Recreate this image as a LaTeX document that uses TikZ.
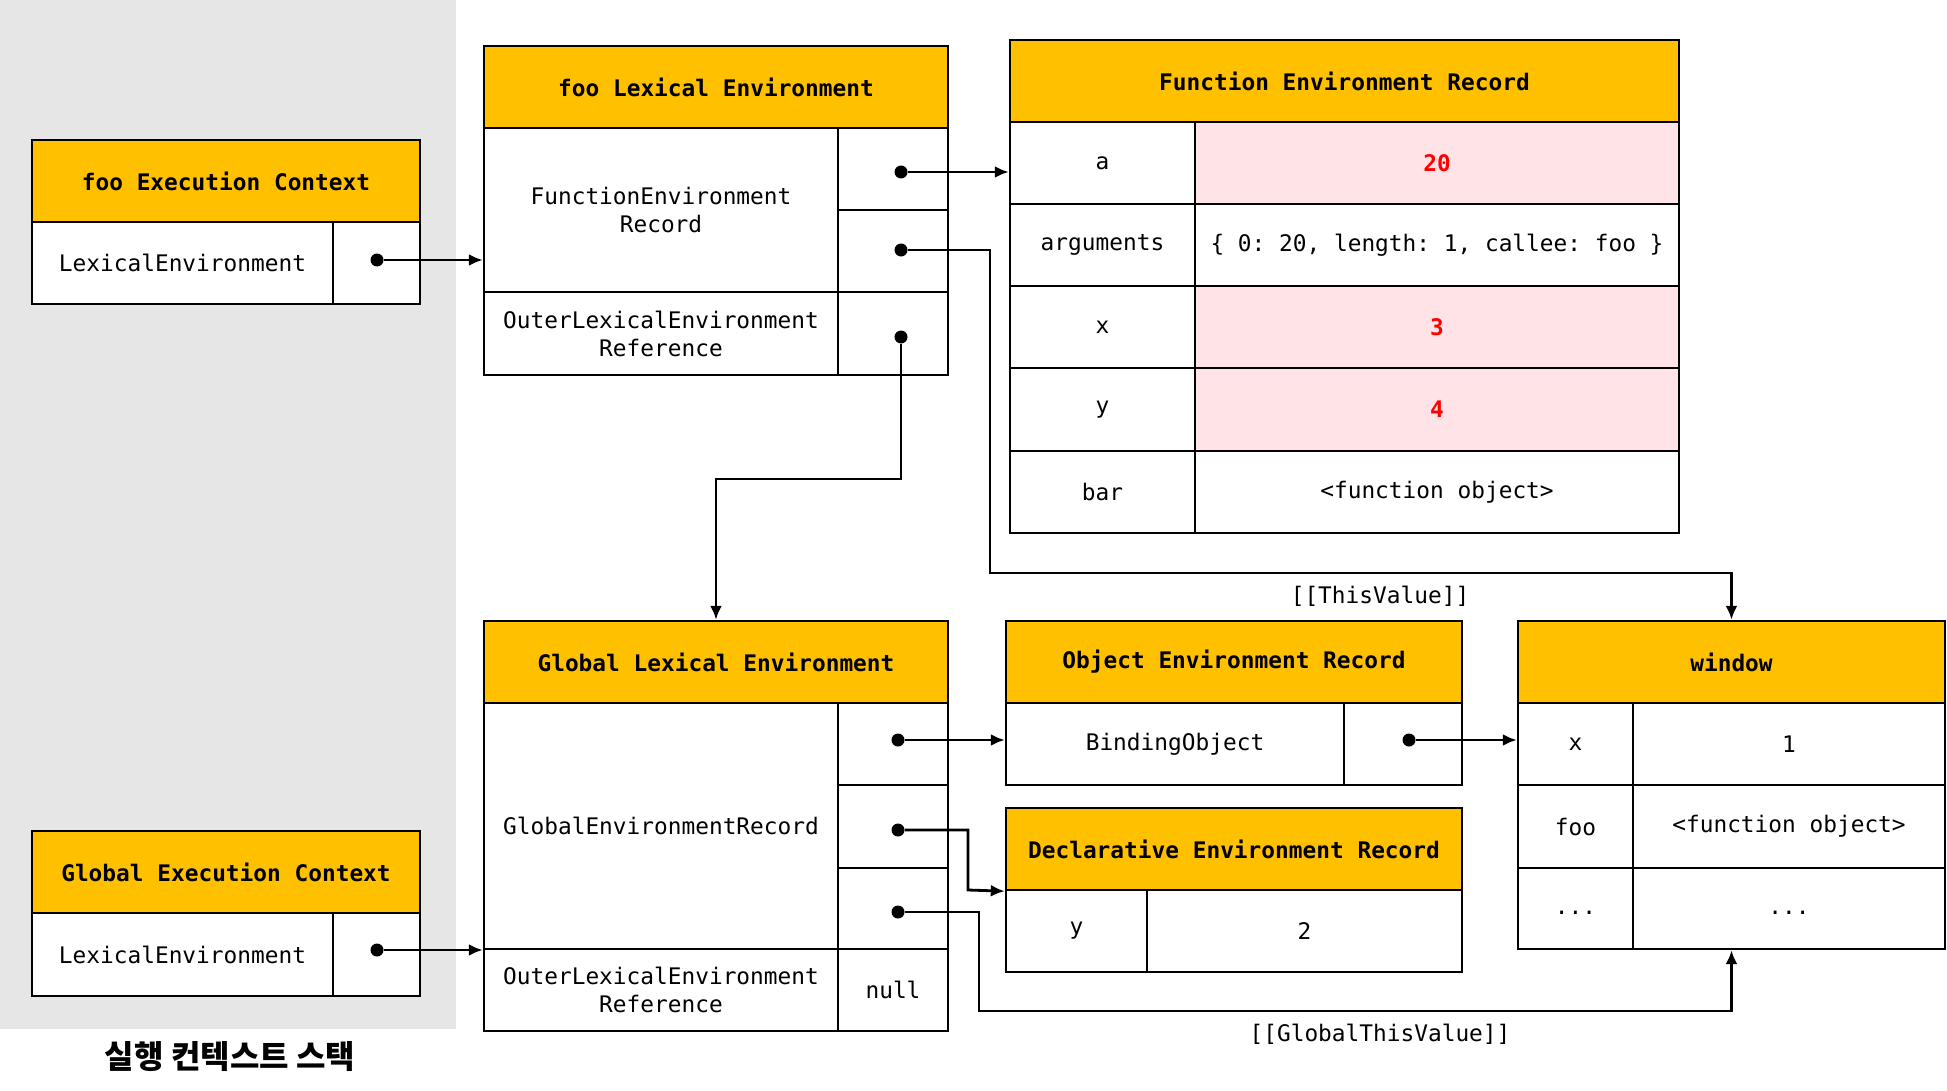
\documentclass[tikz,border=0pt]{standalone}
\usepackage{fontspec}
\setmonofont{DejaVu Sans Mono}
\newfontfamily\kfont{Noto Sans CJK KR}
\usetikzlibrary{arrows.meta}
\definecolor{hyellow}{HTML}{FFC000}
\definecolor{pinkbg}{HTML}{FFE3E6}
\definecolor{panelgray}{HTML}{E6E6E6}
\definecolor{valred}{HTML}{FF0000}
\tikzset{
  txt/.style={font=\ttfamily\fontsize{11.4}{14}\selectfont},
  hdr/.style={draw, line width=1.2pt, fill=hyellow, inner sep=0pt, align=center, font=\ttfamily\bfseries\fontsize{11.4}{14}\selectfont},
  cellb/.style={draw, line width=1.2pt, fill=white, inner sep=0pt, align=center, txt},
  pinkc/.style={cellb, fill=pinkbg, text=valred, font=\ttfamily\bfseries\fontsize{11.4}{14}\selectfont},
  dotn/.style={circle, fill=black, inner sep=0pt, minimum size=6.5pt},
  conn/.style={line width=1.4pt, -{Latex[length=7pt,width=6pt]}},
}
\begin{document}
\begin{tikzpicture}[x=0.5pt,y=-0.5pt]
\useasboundingbox (0,0) rectangle (1947,1091);
\fill[panelgray] (0,0) rectangle (456,1029);
\node[font=\kfont\bfseries\fontsize{16}{19}\selectfont] (stack) at (230,1057) {실행 컨텍스트 스택};

% foo Execution Context
\node[hdr, minimum width=194pt, minimum height=41pt] (fech) at (226,181) {foo Execution Context};
\node[cellb, minimum width=150.5pt, minimum height=41pt] (fecL) at (182.5,263) {LexicalEnvironment};
\node[cellb, minimum width=43.5pt, minimum height=41pt] (fecR) at (376.5,263) {};

% Global Execution Context
\node[hdr, minimum width=194pt, minimum height=41pt] (gech) at (226,872) {Global Execution Context};
\node[cellb, minimum width=150.5pt, minimum height=41.5pt] (gecL) at (182.5,954.5) {LexicalEnvironment};
\node[cellb, minimum width=43.5pt, minimum height=41.5pt] (gecR) at (376.5,954.5) {};

% foo Lexical Environment
\node[hdr, minimum width=232pt, minimum height=41pt] (fleh) at (716,87) {foo Lexical Environment};
\node[cellb, minimum width=177pt, minimum height=82pt] (fleL) at (661,210) {FunctionEnvironment\\Record};
\node[cellb, minimum width=55pt, minimum height=41pt] (fleR1) at (893,169) {};
\node[cellb, minimum width=55pt, minimum height=41pt] (fleR2) at (893,251) {};
\node[cellb, minimum width=177pt, minimum height=41.5pt] (fleO) at (661,333.5) {OuterLexicalEnvironment\\Reference};
\node[cellb, minimum width=55pt, minimum height=41.5pt] (fleOR) at (893,333.5) {};

% Function Environment Record
\node[hdr, minimum width=334.5pt, minimum height=41pt] (ferh) at (1344.5,81) {Function Environment Record};
\node[cellb, minimum width=92.5pt, minimum height=41pt] (fka) at (1102.5,163) {a};
\node[pinkc, minimum width=242pt, minimum height=41pt] (fva) at (1437,163) {20};
\node[cellb, minimum width=92.5pt, minimum height=41pt] (fkarg) at (1102.5,245) {arguments};
\node[cellb, minimum width=242pt, minimum height=41pt] (fvarg) at (1437,245) {\{ 0: 20, length: 1, callee: foo \}};
\node[cellb, minimum width=92.5pt, minimum height=41pt] (fkx) at (1102.5,327) {x};
\node[pinkc, minimum width=242pt, minimum height=41pt] (fvx) at (1437,327) {3};
\node[cellb, minimum width=92.5pt, minimum height=41.5pt] (fky) at (1102.5,409.5) {y};
\node[pinkc, minimum width=242pt, minimum height=41.5pt] (fvy) at (1437,409.5) {4};
\node[cellb, minimum width=92.5pt, minimum height=41pt] (fkbar) at (1102.5,492) {bar};
\node[cellb, minimum width=242pt, minimum height=41pt] (fvbar) at (1437,492) {<function object>};

% Global Lexical Environment
\node[hdr, minimum width=232pt, minimum height=41pt] (gleh) at (716,662) {Global Lexical Environment};
\node[cellb, minimum width=177pt, minimum height=123pt] (gleL) at (661,826) {GlobalEnvironmentRecord};
\node[cellb, minimum width=55pt, minimum height=41pt] (gleR1) at (893,744) {};
\node[cellb, minimum width=55pt, minimum height=41.5pt] (gleR2) at (893,826.5) {};
\node[cellb, minimum width=55pt, minimum height=40.5pt] (gleR3) at (893,908.5) {};
\node[cellb, minimum width=177pt, minimum height=41pt] (gleO) at (661,990) {OuterLexicalEnvironment\\Reference};
\node[cellb, minimum width=55pt, minimum height=41pt] (gleOR) at (893,990) {null};

% Object Environment Record
\node[hdr, minimum width=228pt, minimum height=41pt] (oerh) at (1234,662) {Object Environment Record};
\node[cellb, minimum width=169pt, minimum height=41pt] (oerL) at (1175,744) {BindingObject};
\node[cellb, minimum width=59pt, minimum height=41pt] (oerR) at (1403,744) {};

% Declarative Environment Record
\node[hdr, minimum width=228pt, minimum height=41pt] (derh) at (1234,849) {Declarative Environment Record};
\node[cellb, minimum width=70.5pt, minimum height=41pt] (derk) at (1076.5,931) {y};
\node[cellb, minimum width=157.5pt, minimum height=41pt] (derv) at (1304.5,931) {2};

% window
\node[hdr, minimum width=213.5pt, minimum height=41pt] (winh) at (1731.5,662) {window};
\node[cellb, minimum width=57.5pt, minimum height=41pt] (wk1) at (1575.5,744) {x};
\node[cellb, minimum width=156pt, minimum height=41pt] (wv1) at (1789,744) {1};
\node[cellb, minimum width=57.5pt, minimum height=41.5pt] (wk2) at (1575.5,826.5) {foo};
\node[cellb, minimum width=156pt, minimum height=41.5pt] (wv2) at (1789,826.5) {<function object>};
\node[cellb, minimum width=57.5pt, minimum height=40.5pt] (wk3) at (1575.5,908.5) {...\vphantom{Xy}};
\node[cellb, minimum width=156pt, minimum height=40.5pt] (wv3) at (1789,908.5) {...\vphantom{Xy}};

% labels
\node[txt] (tvlbl) at (1380,596) {[[ThisValue]]};
\node[txt] (gtvlbl) at (1380,1034) {[[GlobalThisValue]]};

% dots
\node[dotn] (fecdot) at (377,260) {};
\node[dotn] (gecdot) at (377,950) {};
\node[dotn] (fd1) at (901,172) {};
\node[dotn] (fd2) at (901,250) {};
\node[dotn] (fd3) at (901,337) {};
\node[dotn] (gd1) at (898,740) {};
\node[dotn] (gd2) at (898,830) {};
\node[dotn] (gd3) at (898,912) {};
\node[dotn] (od1) at (1409,740) {};

% bends
\coordinate (obend) at (901,479);
\coordinate (tvbend) at (990,573);
\coordinate (dbend) at (968,890);
\coordinate (gbend) at (979,1011);

% connectors
\draw[conn] (fecdot) -- (fecdot -| fleL.west);
\draw[conn] (gecdot) -- (gecdot -| gleL.west);
\draw[conn] (fd1) -- (fd1 -| fka.west);
\draw[conn] (fd2) -| (tvbend) -| (winh.north);
\draw[conn] (fd3) -- (obend) -| (gleh.north);
\draw[conn] (gd1) -- (gd1 -| oerL.west);
\draw[conn] (gd2) -| (dbend) -- (derh.south west);
\draw[conn] (gd3) -| (gbend) -| (winh.north |- wv3.south);
\draw[conn] (od1) -- (od1 -| wk1.west);
\end{tikzpicture}
\end{document}
